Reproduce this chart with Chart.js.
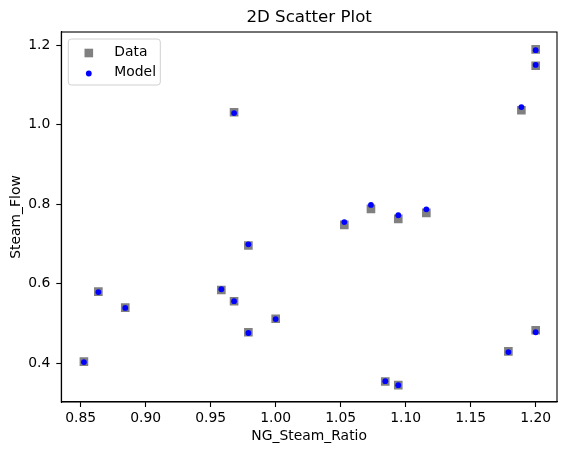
<!DOCTYPE html>
<html>
<head>
<meta charset="utf-8">
<script src="https://cdn.jsdelivr.net/npm/chart.js@4.4.1/dist/chart.umd.min.js"></script>
<style>
html,body{margin:0;padding:0;background:#fff;}
#wrap{width:567px;height:455px;}
</style>
</head>
<body>
<div id="wrap"><canvas id="c" width="567" height="455"></canvas></div>
<script>
// ---- data ----
const ngSteamRatio = [0.8525, 0.8636, 0.8843, 0.9582, 0.968, 0.968, 0.979, 0.979, 1.000, 1.0528,
                      1.0733, 1.0943, 1.0843, 1.0943, 1.1159, 1.179, 1.189, 1.200, 1.200, 1.200];
const steamFlowData = [0.404, 0.580, 0.540, 0.584, 0.556, 1.031, 0.696, 0.478, 0.512, 0.748,
                       0.788, 0.763, 0.354, 0.345, 0.778, 0.430, 1.036, 1.189, 1.148, 0.483];
const steamFlowModel = [0.403, 0.579, 0.539, 0.586, 0.556, 1.029, 0.699, 0.476, 0.511, 0.755,
                        0.798, 0.772, 0.355, 0.345, 0.787, 0.428, 1.044, 1.187, 1.150, 0.478];
const xTicks = [0.85, 0.90, 0.95, 1.00, 1.05, 1.10, 1.15, 1.20];
const yTicks = [0.4, 0.6, 0.8, 1.0, 1.2];
const seriesLabels = ['Data', 'Model'];
const chartTitle = '2D Scatter Plot';
const xLabel = 'NG_Steam_Ratio';
const yLabel = 'Steam_Flow';

const FONT = 'DejaVu Sans';

const toPts = (xs, ys) => xs.map((x, i) => ({x: x, y: ys[i]}));

// frame (top/right spines) + legend inside the axes
const framePlugin = {
  id: 'frame',
  afterDatasetsDraw(chart) {
    const {ctx, chartArea: a} = chart;
    ctx.save();
    ctx.strokeStyle = '#000';
    ctx.lineWidth = 1.1;
    ctx.strokeRect(a.left, a.top, a.right - a.left, a.bottom - a.top);
    ctx.restore();
  },
  afterDraw(chart) {
    const {ctx, chartArea: a} = chart;
    const bx = a.left + 7, by = a.top + 7, bw = 92, bh = 46;
    ctx.save();
    // box
    const r = 3;
    ctx.beginPath();
    ctx.moveTo(bx + r, by);
    ctx.lineTo(bx + bw - r, by);
    ctx.quadraticCurveTo(bx + bw, by, bx + bw, by + r);
    ctx.lineTo(bx + bw, by + bh - r);
    ctx.quadraticCurveTo(bx + bw, by + bh, bx + bw - r, by + bh);
    ctx.lineTo(bx + r, by + bh);
    ctx.quadraticCurveTo(bx, by + bh, bx, by + bh - r);
    ctx.lineTo(bx, by + r);
    ctx.quadraticCurveTo(bx, by, bx + r, by);
    ctx.closePath();
    ctx.fillStyle = 'rgba(255,255,255,0.8)';
    ctx.fill();
    ctx.strokeStyle = '#d0d0d0';
    ctx.lineWidth = 1;
    ctx.stroke();
    // items
    const rows = [by + 13, by + 33];
    chart.data.datasets.forEach((ds, i) => {
      const cy = rows[i];
      const mx = bx + 20.5;
      ctx.fillStyle = ds.backgroundColor;
      if (ds.pointStyle === 'rect') {
        const s = 8.6;
        ctx.fillRect(mx - s / 2, cy + 1 - s / 2, s, s);
      } else {
        ctx.beginPath();
        ctx.arc(mx, cy + 1.5, ds.pointRadius, 0, Math.PI * 2);
        ctx.fill();
      }
      ctx.fillStyle = '#000';
      ctx.font = '13.9px "' + FONT + '"';
      ctx.textBaseline = 'middle';
      ctx.textAlign = 'left';
      ctx.fillText(ds.label, bx + 46, cy);
    });
    ctx.restore();
  }
};

new Chart(document.getElementById('c'), {
  type: 'scatter',
  data: {
    datasets: [
      {
        label: seriesLabels[0],
        data: toPts(ngSteamRatio, steamFlowData),
        pointStyle: 'rect',
        pointRadius: 6.1,
        backgroundColor: '#808080',
        borderColor: '#808080',
        borderWidth: 0,
        order: 2
      },
      {
        label: seriesLabels[1],
        data: toPts(ngSteamRatio, steamFlowModel),
        pointStyle: 'circle',
        pointRadius: 2.9,
        backgroundColor: '#0000ff',
        borderColor: '#0000ff',
        borderWidth: 0,
        order: 1
      }
    ]
  },
  options: {
    responsive: false,
    animation: false,
    events: [],
    layout: {padding: {left: 0, right: 10, top: 0, bottom: 0}},
    plugins: {
      legend: {display: false},
      tooltip: {enabled: false},
      title: {
        display: true,
        text: chartTitle,
        fullSize: false,
        color: '#000',
        font: {family: FONT, size: 16.67, weight: 'normal', lineHeight: 1.2},
        padding: {top: 8, bottom: 4}
      }
    },
    scales: {
      x: {
        type: 'linear',
        min: 0.8351,
        max: 1.2164,
        afterFit(s) { s.height = 53; },
        afterBuildTicks(s) { s.ticks = xTicks.map(v => ({value: v})); },
        grid: {drawOnChartArea: false, drawTicks: true, tickLength: 5, color: '#000', tickWidth: 1.1},
        border: {display: true, color: '#000', width: 1.1},
        ticks: {
          color: '#000',
          padding: 3,
          maxRotation: 0,
          autoSkip: false,
          font: {family: FONT, size: 13.9},
          callback: v => Number(v).toFixed(2)
        },
        title: {
          display: true,
          text: xLabel,
          color: '#000',
          font: {family: FONT, size: 13.9},
          padding: {top: 0, bottom: 10}
        }
      },
      y: {
        type: 'linear',
        min: 0.3026,
        max: 1.2327,
        afterFit(s) { s.width = 61.3; },
        afterBuildTicks(s) { s.ticks = yTicks.map(v => ({value: v})); },
        grid: {drawOnChartArea: false, drawTicks: true, tickLength: 5, color: '#000', tickWidth: 1.1},
        border: {display: true, color: '#000', width: 1.1},
        ticks: {
          color: '#000',
          padding: 6,
          autoSkip: false,
          font: {family: FONT, size: 13.9},
          callback: v => Number(v).toFixed(1)
        },
        title: {
          display: true,
          text: yLabel,
          color: '#000',
          font: {family: FONT, size: 13.9},
          padding: {top: 8.5, bottom: 0}
        }
      }
    }
  },
  plugins: [framePlugin]
});
</script>
</body>
</html>
